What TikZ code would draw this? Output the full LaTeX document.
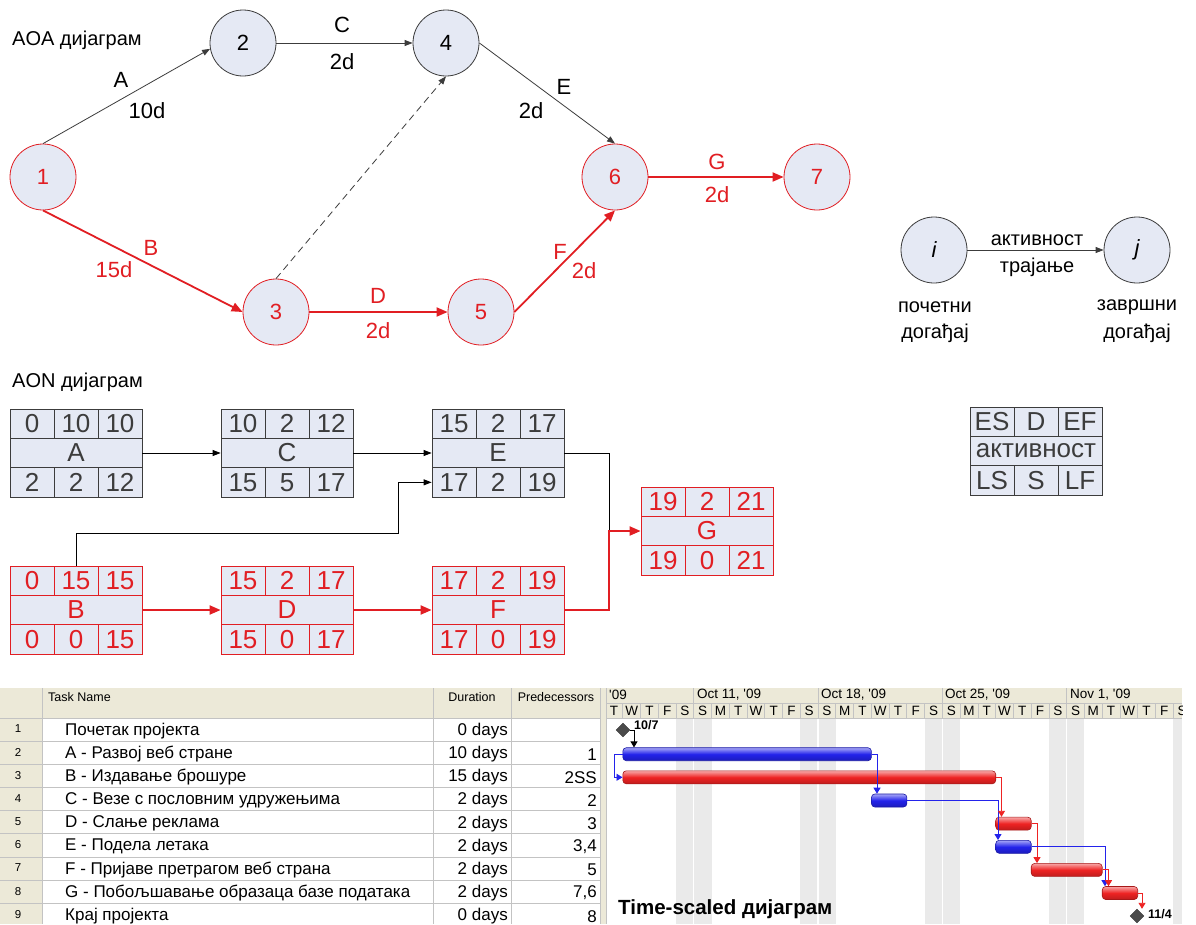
\documentclass[tikz,border=0pt]{standalone}
\usepackage{fontspec}
\setmainfont{Liberation Sans}
\usetikzlibrary{arrows.meta,calc,shapes.geometric}
\definecolor{nfill}{RGB}{229,233,244}
\definecolor{ncol}{RGB}{60,60,60}
\definecolor{rcol}{RGB}{225,30,35}
\definecolor{hdr}{RGB}{236,233,216}
\definecolor{gridc}{RGB}{195,195,195}
\definecolor{wkend}{RGB}{234,234,234}
\definecolor{gb}{RGB}{35,35,235}
\definecolor{gr}{RGB}{238,35,35}
\definecolor{msc}{RGB}{75,75,75}
\newcommand\fs[1]{\fontsize{#1}{#1}\selectfont}
\newcommand\cellrow[6]{%
  \node[cell,text=#3] (#1a) at (\bx+22,#2) {#4};
  \node[cell,text=#3] (#1b) at (\bx+66,#2) {#5};
  \node[cell,text=#3] (#1c) at (\bx+110,#2) {#6};}
\newcommand\aon[7]{%
  \def\bx{#3}%
  \node[aonbox,draw=#2] (#1) at (#3+66,#4+44) {};
  \draw[#2,line width=0.8pt] (#3,#4+29.33) -- ++(132,0) (#3,#4+58.67) -- ++(132,0)
    (#3+44,#4) -- ++(0,29.33) (#3+88,#4) -- ++(0,29.33)
    (#3+44,#4+58.67) -- ++(0,29.33) (#3+88,#4+58.67) -- ++(0,29.33);
  \cellrow{#1t}{#4+14.67}{#2}#6
  \node[cell,text=#2] (#1m) at (#3+66,#4+44) {#5};
  \cellrow{#1b}{#4+73.33}{#2}#7}
\begin{document}
\begin{tikzpicture}[x=1pt,y=-1pt,
  evt/.style={circle,draw=ncol,fill=nfill,minimum size=66pt,inner sep=0pt,line width=0.8pt,font=\fs{22}},
  cev/.style={evt,draw=rcol,text=rcol},
  blk/.style={draw=ncol,line width=0.8pt,-{Triangle[length=8pt,width=6pt]}},
  crit/.style={draw=rcol,line width=1.8pt,-{Triangle[length=11pt,width=9pt]}},
  lbl/.style={font=\fs{22},inner sep=0pt},
  rlbl/.style={lbl,text=rcol},
  ttl/.style={font=\fs{20},inner sep=0pt,anchor=west},
  aonbox/.style={rectangle,fill=nfill,line width=0.8pt,minimum width=132pt,minimum height=88pt,inner sep=0pt},
  cell/.style={font=\fs{26},inner sep=0pt},
  ablk/.style={draw=black,line width=0.9pt,-{Triangle[length=8pt,width=6pt]}},
  lblk/.style={draw=black,line width=0.9pt},
  ared/.style={draw=rcol,line width=2pt,-{Triangle[length=11pt,width=9pt]}},
  tbl/.style={font=\fs{17},inner sep=0pt},
  thd/.style={font=\fs{12.5},inner sep=0pt},
  gh/.style={font=\fs{13.5},inner sep=0pt},
  rnum/.style={font=\fs{11.5},inner sep=0pt},
  gbar/.style={rectangle,rounded corners=3.5pt,minimum height=13pt,inner sep=0pt,line width=0.6pt,
     draw=#1!70!black,top color=#1!40!white,bottom color=#1!80!black,middle color=#1},
  glnk/.style={draw=#1,line width=0.9pt,-{Triangle[length=6pt,width=7pt]}},
  ms/.style={diamond,fill=msc,draw=msc!70!black,minimum size=14pt,inner sep=0pt},
  msl/.style={font=\bfseries\fs{12.5},inner sep=0pt,anchor=west}]
\useasboundingbox (0,0) rectangle (1196,924);
\fill[white] (0,0) rectangle (1196,924);

% ---------------- AOA ----------------
\node[ttl] (taoa) at (12,40) {AOA дијаграм};
\node[cev] (n1) at (43,177) {1};
\node[evt] (n2) at (243,43) {2};
\node[evt] (n4) at (446,43) {4};
\node[cev] (n3) at (276,312) {3};
\node[cev] (n5) at (481,312) {5};
\node[cev] (n6) at (615,177) {6};
\node[cev] (n7) at (817,177) {7};

\draw[blk] (n1.north) -- (n2.190);
\draw[blk] (n2.east) -- (n4.west);
\draw[blk] (n4.east) -- (n6.north);
\draw[blk,dash pattern=on 7pt off 4.5pt] (n3.north) -- (n4.south);
\draw[crit] (n1.south) -- (n3.west);
\draw[crit] (n3.east) -- (n5.west);
\draw[crit] (n5.east) -- (n6.south);
\draw[crit] (n6.east) -- (n7.west);

\node[lbl] (lA) at (121,80) {A};
\node[lbl] (lA2) at (147,111) {10d};
\node[lbl] (lC) at (342,25) {C};
\node[lbl] (lC2) at (342,62) {2d};
\node[lbl] (lE) at (564,87) {E};
\node[lbl] (lE2) at (531,111) {2d};
\node[rlbl] (lB) at (151,248) {B};
\node[rlbl] (lB2) at (114,270) {15d};
\node[rlbl] (lD) at (378,296) {D};
\node[rlbl] (lD2) at (378,331) {2d};
\node[rlbl] (lF) at (560,252) {F};
\node[rlbl] (lF2) at (584,271) {2d};
\node[rlbl] (lG) at (717,162) {G};
\node[rlbl] (lG2) at (717,195) {2d};

% legend AOA
\node[evt,font=\itshape\fs{22}] (ni) at (934,250) {i};
\node[evt,font=\itshape\fs{22}] (nj) at (1137,250) {j};
\draw[blk] (ni.east) -- (nj.west);
\node[lbl,font=\fs{20}] (lakt) at (1037,240) {активност};
\node[lbl,font=\fs{20}] (ltr) at (1037,267) {трајање};
\node[lbl,font=\fs{20}] (lp1) at (935,307) {почетни};
\node[lbl,font=\fs{20}] (lp2) at (935,333) {догађај};
\node[lbl,font=\fs{20}] (lz1) at (1137,307) {завршни};
\node[lbl,font=\fs{20}] (lz2) at (1137,333) {догађај};

% ---------------- AON ----------------
\node[ttl] (taon) at (12,382) {AON дијаграм};
\aon{A}{ncol}{10}{409}{A}{{0}{10}{10}}{{2}{2}{12}}
\aon{C}{ncol}{221}{409}{C}{{10}{2}{12}}{{15}{5}{17}}
\aon{E}{ncol}{432}{409}{E}{{15}{2}{17}}{{17}{2}{19}}
\aon{B}{rcol}{10}{566}{B}{{0}{15}{15}}{{0}{0}{15}}
\aon{D}{rcol}{221}{566}{D}{{15}{2}{17}}{{15}{0}{17}}
\aon{F}{rcol}{432}{566}{F}{{17}{2}{19}}{{17}{0}{19}}
\aon{G}{rcol}{641}{487}{G}{{19}{2}{21}}{{19}{0}{21}}
\aon{L}{ncol}{970}{407}{активност}{{ES}{D}{EF}}{{LS}{S}{LF}}

\draw[ablk] (A) -- (C);
\draw[ablk] (C) -- (E);
\draw[ared] (B) -- (D);
\draw[ared] (D) -- (F);
\coordinate (k1) at (398,533);
\draw[ablk] (B.north) |- (k1) |- ([yshift=-29.33pt]E.west);
\coordinate (k2) at (609,531);
\draw[lblk] (E.east) -| (k2);
\draw[ared] (F.east) -| (k2) -- (G.west);

% ---------------- Table ----------------
\fill[hdr] (0,688) rectangle (600,718);
\fill[hdr] (0,718) rectangle (42,924);
\fill[hdr] (600,688) rectangle (606,924);
\fill[hdr] (606,688) rectangle (1182,718);
\foreach \k in {0,...,8} \draw[gridc,line width=0.8pt] (0,{718+23.15*\k}) -- (600,{718+23.15*\k});
\draw[gridc,line width=0.8pt] (42,688) -- (42,924) (433,688) -- (433,924) (511,688) -- (511,924)
   (600,688) -- (600,924) (606,688) -- (606,924) (0,718) -- (600,718);
\node[thd,anchor=west] (hTask) at (48,697) {Task Name};
\node[thd] (hDur) at (472,697) {Duration};
\node[thd] (hPred) at (556,697) {Predecessors};
\foreach[count=\k] \t/\d/\p in {Почетак пројекта/0 days/,
   A - Развој веб стране/10 days/1,
   B - Издавање брошуре/15 days/2SS,
   C - Везе с пословним удружењима/2 days/2,
   D - Слање реклама/2 days/3,
   E - Подела летака/2 days/{3,4},
   F - Пријаве претрагом веб страна/2 days/5,
   G - Побољшавање образаца базе података/2 days/{7,6},
   Крај пројекта/0 days/8} {
  \node[rnum] (rn\k) at (18,{729+23.15*(\k-1)}) {\k};
  \node[tbl,anchor=west] (tn\k) at (65,{731+23.15*(\k-1)}) {\t};
  \node[tbl,anchor=east] (td\k) at (508,{731+23.15*(\k-1)}) {\d};
  \node[tbl,anchor=east] (tp\k) at (597,{731+23.15*(\k-1)}) {\p};
}

% ---------------- Gantt ----------------
\foreach \i in {4,11,18,25} {
  \fill[wkend] ({605+17.757*\i},718) rectangle ({605+17.757*(\i+2)},924);
  \draw[white,line width=1.2pt] ({605+17.757*(\i+1)},718) -- ({605+17.757*(\i+1)},924);
}
\fill[wkend] (1173.2,718) rectangle (1182,924);
\draw[gridc,line width=0.8pt] (606,703) -- (1182,703) (606,718) -- (1182,718);
\foreach \i in {5,12,19,26} \draw[gridc,line width=0.8pt] ({605+17.757*\i},688) -- ({605+17.757*\i},703);
\foreach \i in {1,...,32} \draw[gridc,line width=0.8pt] ({605+17.757*\i},703) -- ({605+17.757*\i},718);
\node[gh,anchor=west] (w0) at (609,695) {\textquotesingle09};
\node[gh,anchor=west] (w1) at (697,695) {Oct 11, \textquotesingle09};
\node[gh,anchor=west] (w2) at (821,695) {Oct 18, \textquotesingle09};
\node[gh,anchor=west] (w3) at (945,695) {Oct 25, \textquotesingle09};
\node[gh,anchor=west] (w4) at (1070,695) {Nov 1, \textquotesingle09};
\begin{scope}
\clip (606,703) rectangle (1182,718);
\foreach[count=\i from 0] \d in {T,W,T,F,S,S,M,T,W,T,F,S,S,M,T,W,T,F,S,S,M,T,W,T,F,S,S,M,T,W,T,F,S}
  \node[gh] (dd\i) at ({605+17.757*\i+8.88},711) {\d};
\end{scope}

% milestones
\node[ms] (m1) at (623,730) {};
\node[msl] (m1l) at (634,725) {10/7};
\node[ms] (m9) at (1137,916) {};
\node[msl] (m9l) at (1148,914) {11/4};

% bars
\node[gbar=gb,minimum width=248.6pt] (bA) at (747.1,754.2) {};
\node[gbar=gr,minimum width=372.9pt] (bB) at (809.25,777.3) {};
\node[gbar=gb,minimum width=35.5pt] (bC) at (889.15,800.5) {};
\node[gbar=gr,minimum width=35.5pt] (bD) at (1013.45,823.6) {};
\node[gbar=gb,minimum width=35.5pt] (bE) at (1013.45,846.8) {};
\node[gbar=gr,minimum width=71pt] (bF) at (1066.7,869.9) {};
\node[gbar=gr,minimum width=35.5pt] (bG) at (1119.95,893) {};

% links
\coordinate (q0) at (634,730);
\draw[glnk=black] (m1.east) -- (q0) -- (q0 |- bA.north);
\coordinate (q1) at (614,754.2);
\draw[glnk=gb] (bA.west) -- (q1) |- (bB.west);
\coordinate (q2) at (877,754.2);
\draw[glnk=gb] (bA.east) -- (q2) -- (q2 |- bC.north);
\coordinate (q3) at (998,800.5);
\draw[glnk=gb] (bC.east) -- (q3) -- (q3 |- bE.north);
\coordinate (q4) at (1001.5,777.3);
\draw[glnk=gr] (bB.east) -- (q4) -- (q4 |- bD.north);
\coordinate (q5) at (1037,823.6);
\draw[glnk=gr] (bD.east) -- (q5) -- (q5 |- bF.north);
\coordinate (q6) at (1105,846.8);
\draw[glnk=gb] (bE.east) -- (q6) -- (q6 |- bG.north);
\coordinate (q7) at (1108.5,869.9);
\draw[glnk=gr] (bF.east) -- (q7) -- (q7 |- bG.north);
\coordinate (q8) at (1142,893);
\draw[glnk=gr] (bG.east) -- (q8) -- (q8 |- m9.north);

\node[font=\bfseries\fs{20.5},inner sep=0pt,anchor=west] (tts) at (618,909) {Time-scaled дијаграм};
\end{tikzpicture}
\end{document}
